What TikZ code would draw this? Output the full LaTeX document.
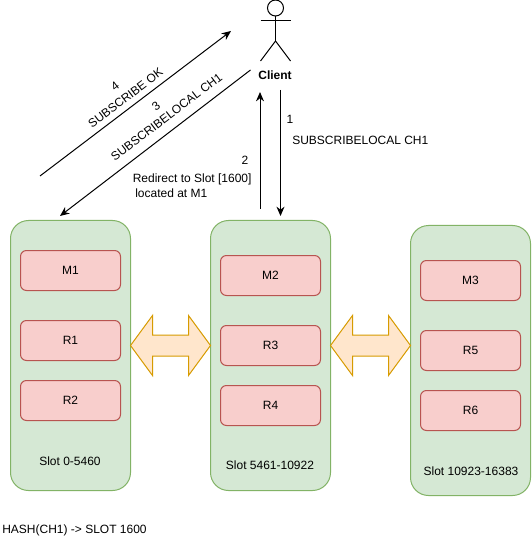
\documentclass[tikz,border=0pt]{standalone}
\usepackage{fontspec}
\setmainfont{Liberation Sans}
\usetikzlibrary{arrows.meta}
\definecolor{gfill}{HTML}{D5E8D4}
\definecolor{gline}{HTML}{82B366}
\definecolor{rfill}{HTML}{F8CECC}
\definecolor{rline}{HTML}{B85450}
\definecolor{ofill}{HTML}{FFE6CC}
\definecolor{oline}{HTML}{D79B00}
\tikzset{
  x=0.75pt,y=-0.75pt,
  shard/.style={draw=gline,fill=gfill,line width=0.75pt,rounded corners=13.5pt,minimum width=90pt,minimum height=202.5pt,inner sep=0pt},
  inst/.style={draw=rline,fill=rfill,line width=0.75pt,rounded corners=4.5pt,minimum width=75pt,minimum height=30pt,inner sep=0pt,font=\fontsize{9}{11}\selectfont},
  lbl/.style={inner sep=0pt,font=\fontsize{9}{11}\selectfont,text=black},
  conn/.style={line width=0.75pt,draw=black,-{Stealth[length=7pt,width=6pt]}},
  dbl/.style={draw=oline,fill=ofill,line width=0.75pt,line join=miter},
  fig/.style={draw=black,line width=0.75pt}
}
\begin{document}
\begin{tikzpicture}
\useasboundingbox (0,0) rectangle (531,541);
\fill[white] (0,0) rectangle (531,541);
% shards
\node[shard] (s1) at (70.5,355.5) {};
\node[shard] (s2) at (270.5,355.5) {};
\node[shard] (s3) at (470.5,360.5) {};
% instances
\node[inst] (m1) at (70.5,270.5) {M1};
\node[inst] (r1) at (70.5,340.5) {R1};
\node[inst] (r2) at (70.5,400.5) {R2};
\node[inst] (m2) at (270.5,275.5) {M2};
\node[inst] (r3) at (270.5,345.5) {R3};
\node[inst] (r4) at (270.5,405.5) {R4};
\node[inst] (m3) at (470.5,280.5) {M3};
\node[inst] (r5) at (470.5,350.5) {R5};
\node[inst] (r6) at (470.5,410.5) {R6};
\node[lbl] (t1) at (70,461) {Slot 0-5460};
\node[lbl] (t2) at (270,465.5) {Slot 5461-10922};
\node[lbl] (t3) at (471,471) {Slot 10923-16383};
% double arrows
\draw[dbl] (130.5,345.5) -- (152.5,315.5) -- (152.5,335) -- (188.5,335) -- (188.5,315.5) -- (210.5,345.5) -- (188.5,375.5) -- (188.5,356) -- (152.5,356) -- (152.5,375.5) -- cycle;
\draw[dbl] (330.5,345.5) -- (352.5,315.5) -- (352.5,335) -- (388.5,335) -- (388.5,315.5) -- (410.5,345.5) -- (388.5,375.5) -- (388.5,356) -- (352.5,356) -- (352.5,375.5) -- cycle;
% client figure
\draw[fig] (275.5,8) circle (6pt);
\draw[fig] (275.5,16) -- (275.5,41);
\draw[fig] (260.5,20.5) -- (290.5,20.5);
\draw[fig] (260.5,61) -- (275.5,41) -- (290.5,61);
\node[lbl,font=\fontsize{9}{11}\selectfont\bfseries] (client) at (275,75) {Client};
% free ends
\coordinate (a4s) at (40,176);
\coordinate (a4e) at (231,31);
\coordinate (a3s) at (250.5,70);
\coordinate (a3e) at (60,216);
\coordinate (a2s) at (260,209);
\coordinate (a2e) at (260,92);
\coordinate (a1s) at (280.5,90);
\coordinate (a1e) at (280.5,216);
\draw[conn] (a4s) -- (a4e);
\draw[conn] (a3s) -- (a3e);
\draw[conn] (a2s) -- (a2e);
\draw[conn] (a1s) -- (a1e);
% labels
\node[lbl] (n1) at (290,119.5) {1};
\node[lbl,anchor=west] (c1) at (292,140) {SUBSCRIBELOCAL CH1};
\node[lbl] (n2) at (245,160) {2};
\node[lbl,anchor=west] (c2) at (132.5,179.5) {Redirect to Slot [1600]};
\node[lbl,anchor=west] (c2b) at (135,193.5) {located at M1};
\node[lbl,rotate=37.3] (n4) at (115,86) {4};
\node[lbl,rotate=37.3] (c4) at (125.5,98) {SUBSCRIBE OK};
\node[lbl,rotate=37.3] (n3) at (156,106) {3};
\node[lbl,rotate=37.3] (c3) at (166.5,117) {SUBSCRIBELOCAL CH1};
\node[lbl,anchor=west] (hash) at (2,530) {HASH(CH1) -> SLOT 1600};
\end{tikzpicture}
\end{document}
